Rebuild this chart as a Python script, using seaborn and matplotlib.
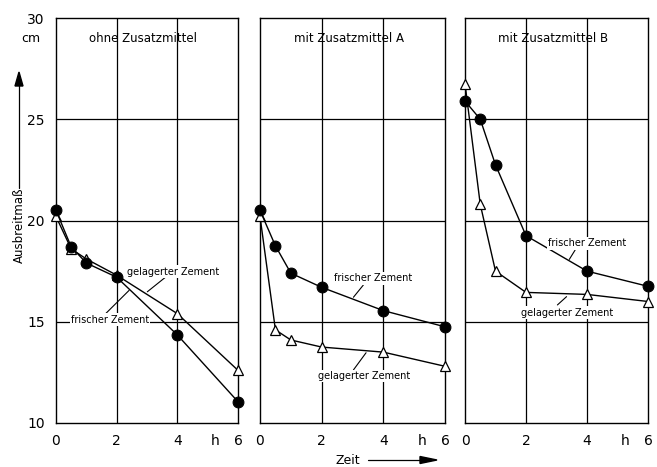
import matplotlib.pyplot as plt
import seaborn as sns

sns.set_theme(style="white")
plt.rcParams['font.family'] = ['DejaVu Sans']
plt.rcParams['text.color'] = 'black'
plt.rcParams['xtick.color'] = 'black'
plt.rcParams['ytick.color'] = 'black'

# Zeit in h
zeit = [0, 0.5, 1, 2, 4, 6]

# Ausbreitmass in cm
frisch_ohne = [20.5, 18.7, 17.9, 17.2, 14.35, 11.05]
gelag_ohne = [20.2, 18.6, 18.1, 17.3, 15.4, 12.6]
frisch_a = [20.5, 18.75, 17.4, 16.7, 15.55, 14.75]
gelag_a = [20.2, 14.6, 14.1, 13.75, 13.5, 12.8]
frisch_b = [25.9, 25.0, 22.75, 19.25, 17.5, 16.75]
gelag_b = [26.75, 20.8, 17.5, 16.45, 16.35, 16.0]

titel = ["ohne Zusatzmittel", "mit Zusatzmittel A", "mit Zusatzmittel B"]
frisch = [frisch_ohne, frisch_a, frisch_b]
gelag = [gelag_ohne, gelag_a, gelag_b]

x_ticks = [0, 2, 4, 6]
y_ticks = [10, 15, 20, 25, 30]

# label positions: (text x, text y, leader start, leader end)
lab_frisch = [
    (1.78, 15.1, (1.65, 15.42), (2.41, 16.55)),
    (3.68, 17.15, (3.03, 16.21), (3.35, 16.81)),
    (4.0, 18.87, (3.42, 18.08), (3.61, 18.54)),
]
lab_gelag = [
    (3.85, 17.47, (3.01, 16.48), (3.66, 17.26)),
    (3.37, 12.32, (3.03, 12.62), (3.44, 13.47)),
    (3.34, 15.45, (3.03, 15.83), (3.33, 16.24)),
]

W, H = 657, 467
fig = plt.figure(figsize=(W / 100, H / 100), dpi=100)
boxes = [(56, 238), (260, 445), (465, 648)]
top, bottom = 18, 423

for i, (x0, x1) in enumerate(boxes):
    ax = fig.add_axes([x0 / W, 1 - bottom / H, (x1 - x0) / W, (bottom - top) / H])
    for yy in [15, 20, 25]:
        ax.axhline(yy, color="black", lw=0.9, zorder=1)
    for xx in [2, 4]:
        ax.axvline(xx, color="black", lw=0.9, zorder=1)

    sns.lineplot(x=zeit, y=frisch[i], ax=ax, color="black", lw=1.0,
                 marker="o", markersize=7.8, markerfacecolor="black",
                 markeredgecolor="black", clip_on=False, zorder=4)
    sns.lineplot(x=zeit, y=gelag[i], ax=ax, color="black", lw=1.0,
                 marker="^", markersize=6.5, markerfacecolor="white",
                 markeredgecolor="black", markeredgewidth=0.9,
                 clip_on=False, zorder=3)

    ax.set_xlim(0, 6)
    ax.set_ylim(10, 30)
    ax.set_xticks(x_ticks)
    ax.set_xticklabels([str(t) for t in x_ticks], fontsize=10)
    ax.set_yticks(y_ticks)
    if i == 0:
        ax.set_yticklabels([str(t) for t in y_ticks], fontsize=10)
        ax.text(-0.5, 29.0, "cm", fontsize=9, ha="right", va="center")
    else:
        ax.set_yticklabels([])
    ax.tick_params(length=0, pad=8)
    ax.annotate("h", xy=(5.25, 10), xytext=(0, -8), textcoords="offset points",
                ha="center", va="top", fontsize=10)
    for s in ax.spines.values():
        s.set_color("black")
        s.set_linewidth(1.0)
    ax.text(0.48, 0.95, titel[i], transform=ax.transAxes, fontsize=8.5,
            ha="center", va="center")

    for txt, lab in (("frischer Zement", lab_frisch[i]),
                     ("gelagerter Zement", lab_gelag[i])):
        tx, ty, p0, p1 = lab
        ax.plot([p0[0], p1[0]], [p0[1], p1[1]], color="black", lw=0.8, zorder=2)
        ax.text(tx, ty, txt, fontsize=7, ha="center", va="center", zorder=5,
                bbox=dict(facecolor="white", edgecolor="none", pad=1.0))
    ax.set_xlabel("")
    ax.set_ylabel("")

# axis labels with arrows
fig.text(19 / W, 1 - 263 / H, "Ausbreitmaß", rotation=90, fontsize=8.5,
         ha="center", va="bottom")
fig.add_artist(plt.Line2D([19 / W, 19 / W], [1 - 188 / H, 1 - 80 / H],
                          color="black", lw=0.9))
fig.add_artist(plt.Polygon([[15 / W, 1 - 86 / H], [23 / W, 1 - 86 / H],
                            [19 / W, 1 - 72 / H]], closed=True, color="black"))

fig.text(348 / W, 1 - 460 / H, "Zeit", fontsize=9, ha="center", va="center")
fig.add_artist(plt.Line2D([368 / W, 425 / W], [1 - 460 / H, 1 - 460 / H],
                          color="black", lw=0.9))
fig.add_artist(plt.Polygon([[420 / W, 1 - 456.5 / H], [420 / W, 1 - 463.5 / H],
                            [437 / W, 1 - 460 / H]], closed=True, color="black"))

fig.savefig("out.png", dpi=100)
